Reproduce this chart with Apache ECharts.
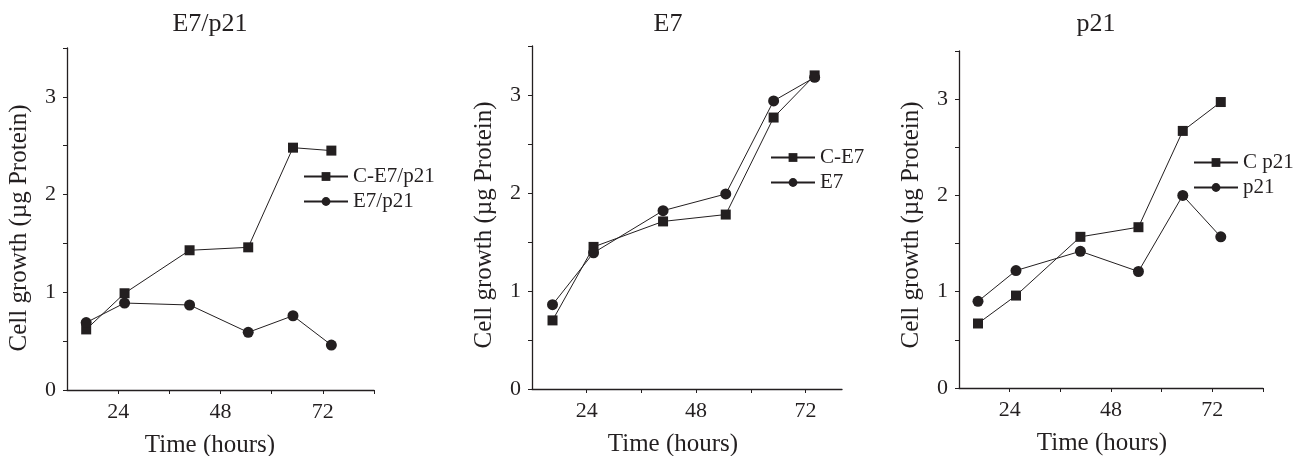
<!DOCTYPE html>
<html>
<head>
<meta charset="utf-8">
<script src="https://cdn.jsdelivr.net/npm/echarts@6/dist/echarts.min.js"></script>
<style>
  html, body { margin: 0; padding: 0; background: #fff; }
  #chart { width: 1308px; height: 456px; }
</style>
</head>
<body>
<div id="chart"></div>
<script>
// sampling times (hours), shared by every panel
const hours = [16.5, 25.5, 40.75, 54.5, 65, 74];

// panel values (µg protein)
const cE7p21 = [0.62, 0.99, 1.43, 1.46, 2.48, 2.45];
const e7p21 = [0.69, 0.89, 0.87, 0.59, 0.76, 0.46];
const cE7 = [0.70, 1.45, 1.71, 1.78, 2.77, 3.20];
const e7 = [0.86, 1.39, 1.82, 1.99, 2.94, 3.18];
const cP21 = [0.67, 0.96, 1.57, 1.67, 2.67, 2.97];
const p21 = [0.90, 1.22, 1.42, 1.21, 2.00, 1.57];

const panelTitles = ['E7/p21', 'E7', 'p21'];
const seriesNames = [['C-E7/p21', 'E7/p21'], ['C-E7', 'E7'], ['C p21', 'p21']];
const seriesValues = [[cE7p21, e7p21], [cE7, e7], [cP21, p21]];
const xMax = [84, 80, 84];
const xTicks = [[24, 36, 48, 60, 72, 84], [24, 36, 48, 60, 72], [24, 36, 48, 60, 72, 84]];
const xLabels = [24, 48, 72];
const yTicks = [0, 0.5, 1, 1.5, 2, 2.5, 3, 3.5];
const yLabels = [0, 1, 2, 3];

const ink = '#231f20';
const font = '"Liberation Serif", "DejaVu Serif", serif';

// layout of each panel
const grids = [
  { left: 67, top: 48, width: 307, height: 342, outerBoundsMode: 'none' },
  { left: 532, top: 46, width: 310, height: 343, outerBoundsMode: 'none' },
  { left: 959, top: 51, width: 304, height: 337, outerBoundsMode: 'none' }
];
const titleX = [205, 663, 1091];
const legendPos = [
  { left: 303, top: 166 },
  { left: 770, top: 147 },
  { left: 1193, top: 152 }
];
const xNameShift = [21, 28, 18];
const yNameShift = [-18, -15, -11];

const chart = echarts.init(document.getElementById('chart'));

const toPairs = vals => vals.map((v, i) => [hours[i], v]);

const series = [];
seriesNames.forEach((names, p) => {
  names.forEach((name, k) => {
    series.push({
      name: name,
      type: 'line',
      xAxisIndex: p,
      yAxisIndex: p,
      data: toPairs(seriesValues[p][k]),
      symbol: k === 0 ? 'rect' : 'circle',
      symbolSize: k === 0 ? 10 : 11,
      lineStyle: { color: ink, width: 1 },
      itemStyle: { color: ink },
      emphasis: { disabled: true }
    });
  });
});

const option = {
  animation: false,
  backgroundColor: '#fff',
  title: panelTitles.map((t, p) => ({
    text: t,
    left: titleX[p],
    top: 6,
    textAlign: 'center',
    textStyle: { fontFamily: font, fontSize: 26, fontWeight: 'normal', color: ink }
  })),
  legend: seriesNames.map((names, p) => ({
    data: names,
    orient: 'vertical',
    left: legendPos[p].left,
    top: legendPos[p].top,
    padding: 0,
    itemWidth: 44,
    itemHeight: 11,
    itemGap: 4,
    selectedMode: false,
    textStyle: { fontFamily: font, fontSize: 21, color: ink }
  })),
  grid: grids,
  xAxis: grids.map((g, p) => ({
    type: 'value',
    gridIndex: p,
    min: 12,
    max: xMax[p],
    interval: 12,
    name: 'Time (hours)',
    nameLocation: 'middle',
    nameGap: 43,
    nameTextStyle: { fontFamily: font, fontSize: 25, color: ink, padding: [0, xNameShift[p], 0, 0] },
    axisLine: { lineStyle: { color: ink, width: 1.3 } },
    axisTick: { customValues: xTicks[p], length: 4, lineStyle: { color: ink } },
    axisLabel: { customValues: xLabels, margin: 11, fontFamily: font, fontSize: 22, color: ink },
    splitLine: { show: false }
  })),
  yAxis: grids.map((g, p) => ({
    type: 'value',
    gridIndex: p,
    min: 0,
    max: 3.5,
    interval: 0.5,
    name: 'Cell growth (µg Protein)',
    nameLocation: 'middle',
    nameGap: 35,
    nameTextStyle: { fontFamily: font, fontSize: 25, color: ink, padding: [0, 0, 0, yNameShift[p]] },
    axisLine: { show: true, lineStyle: { color: ink, width: 1.3 } },
    axisTick: { show: true, customValues: yTicks, length: 4, lineStyle: { color: ink } },
    axisLabel: { customValues: yLabels, margin: 11, fontFamily: font, fontSize: 22, color: ink },
    splitLine: { show: false }
  })),
  series: series
};

chart.setOption(option);
</script>
</body>
</html>
